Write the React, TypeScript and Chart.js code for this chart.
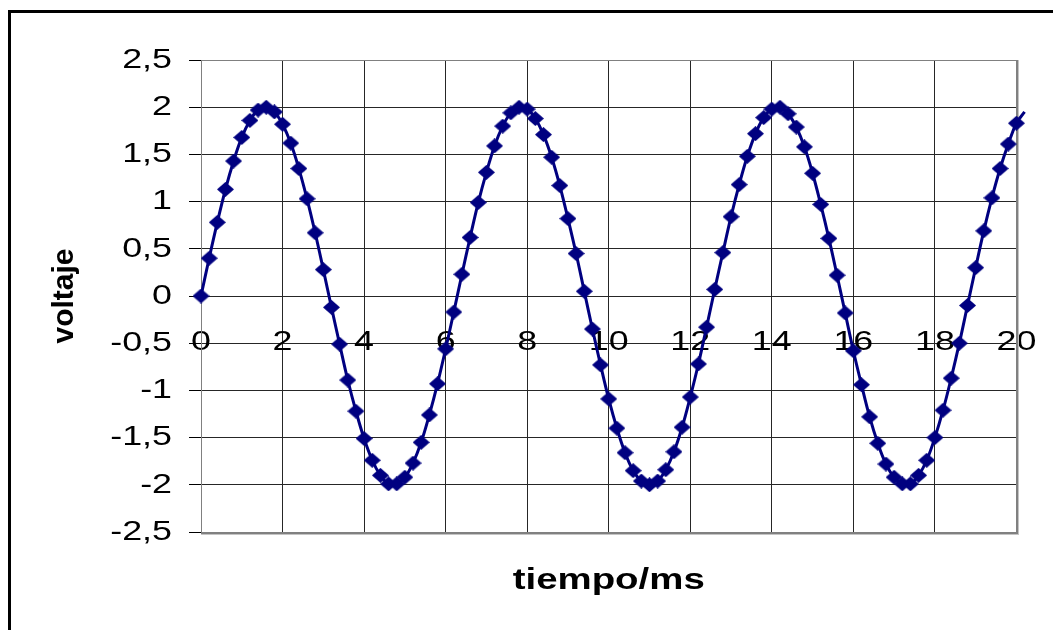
import React, { useEffect, useRef } from 'react';
import { Chart, registerables } from 'chart.js';

Chart.register(...registerables);

// ---- data ----
const TIME_MS = [
  0, 0.2, 0.4, 0.6, 0.8, 1, 1.2, 1.4, 1.6, 1.8,
  2, 2.2, 2.4, 2.6, 2.8, 3, 3.2, 3.4, 3.6, 3.8,
  4, 4.2, 4.4, 4.6, 4.8, 5, 5.2, 5.4, 5.6, 5.8,
  6, 6.2, 6.4, 6.6, 6.8, 7, 7.2, 7.4, 7.6, 7.8,
  8, 8.2, 8.4, 8.6, 8.8, 9, 9.2, 9.4, 9.6, 9.8,
  10, 10.2, 10.4, 10.6, 10.8, 11, 11.2, 11.4, 11.6, 11.8,
  12, 12.2, 12.4, 12.6, 12.8, 13, 13.2, 13.4, 13.6, 13.8,
  14, 14.2, 14.4, 14.6, 14.8, 15, 15.2, 15.4, 15.6, 15.8,
  16, 16.2, 16.4, 16.6, 16.8, 17, 17.2, 17.4, 17.6, 17.8,
  18, 18.2, 18.4, 18.6, 18.8, 19, 19.2, 19.4, 19.6, 19.8,
  20, 20.2,
];

const VOLTAGE = [
  0, 0.40, 0.78, 1.13, 1.43, 1.68, 1.86, 1.97, 2.00, 1.95,
  1.82, 1.62, 1.35, 1.03, 0.67, 0.28, -0.12, -0.51, -0.89, -1.22,
  -1.51, -1.74, -1.90, -1.99, -1.99, -1.92, -1.77, -1.55, -1.26, -0.93,
  -0.56, -0.17, 0.23, 0.62, 0.99, 1.31, 1.59, 1.80, 1.94, 2.00,
  1.98, 1.88, 1.71, 1.47, 1.17, 0.82, 0.45, 0.05, -0.35, -0.73,
  -1.09, -1.40, -1.66, -1.85, -1.96, -2.00, -1.96, -1.84, -1.65, -1.39,
  -1.07, -0.72, -0.33, 0.07, 0.46, 0.84, 1.18, 1.48, 1.72, 1.89,
  1.98, 2.00, 1.93, 1.79, 1.58, 1.30, 0.97, 0.61, 0.22, -0.18,
  -0.58, -0.94, -1.28, -1.56, -1.78, -1.92, -1.99, -1.99, -1.90, -1.74,
  -1.50, -1.21, -0.87, -0.50, -0.10, 0.30, 0.69, 1.04, 1.35, 1.61,
  1.83, 1.95,
];

const X_TICKS = [0, 2, 4, 6, 8, 10, 12, 14, 16, 18, 20];
const Y_TICKS = [-2.5, -2, -1.5, -1, -0.5, 0, 0.5, 1, 1.5, 2, 2.5];

const X_TITLE = 'tiempo/ms';
const Y_TITLE = 'voltaje';

const FONT = "'Liberation Sans', Arial, Helvetica, sans-serif";
const NAVY = '#000080';
const GRID = '#262626';
const TEXT_STRETCH = 1.28;

function makeDiamond(w: number, h: number, color: string) {
  const c = document.createElement('canvas');
  c.width = w;
  c.height = h;
  const g = c.getContext('2d')!;
  g.fillStyle = color;
  g.beginPath();
  g.moveTo(w / 2, 0);
  g.lineTo(w, h / 2);
  g.lineTo(w / 2, h);
  g.lineTo(0, h / 2);
  g.closePath();
  g.fill();
  return c;
}

const framePlugin = {
  id: 'plotFrame',
  beforeDatasetsDraw(chart: any) {
    const { ctx, chartArea: a } = chart;
    const l = Math.round(a.left);
    const t = Math.round(a.top);
    const r = Math.round(a.right);
    const b = Math.round(a.bottom);
    ctx.save();
    ctx.fillStyle = '#808080';
    ctx.fillRect(l, t, r - l, 1);
    ctx.fillRect(l, t, 1, b - t);
    ctx.fillRect(r, t, 2, b - t + 2);
    ctx.fillRect(l, b, r - l + 2, 2);
    ctx.fillStyle = '#c4c4c4';
    ctx.fillRect(r + 2, t, 1, b - t + 3);
    ctx.fillRect(l, b + 2, r - l + 3, 1);
    ctx.restore();
  },
};

export default function App() {
  const ref = useRef<HTMLCanvasElement>(null);

  useEffect(() => {
    document.documentElement.style.overflow = 'hidden';
    document.body.style.overflow = 'hidden';
    const canvas = ref.current!;
    const ctx = canvas.getContext('2d')!;
    const origFill = ctx.fillText.bind(ctx);
    // the reference text is horizontally stretched; stretch unrotated text
    (ctx as any).fillText = (text: string, x: number, y: number, maxWidth?: number) => {
      const m = ctx.getTransform();
      if (Math.abs(m.b) > 1e-6 || Math.abs(m.c) > 1e-6) {
        if (maxWidth === undefined) origFill(text, x, y);
        else origFill(text, x, y, maxWidth);
        return;
      }
      ctx.save();
      ctx.translate(x, y);
      ctx.scale(TEXT_STRETCH, 1);
      origFill(text, 0, 0);
      ctx.restore();
    };

    const diamond = makeDiamond(17, 15, NAVY);
    const xMin = X_TICKS[0];
    const xMax = X_TICKS[X_TICKS.length - 1];

    const chart = new Chart(canvas, {
      type: 'line',
      data: {
        datasets: [
          {
            data: TIME_MS.map((t, i) => ({ x: t, y: VOLTAGE[i] })),
            borderColor: NAVY,
            backgroundColor: NAVY,
            borderWidth: 3,
            tension: 0.4,
            pointStyle: diamond as any,
            pointRadius: (c: any) => (c.parsed && c.parsed.x > xMax ? 0 : 8),
            pointBorderWidth: 0,
            clip: false as any,
            xAxisID: 'x',
            yAxisID: 'y',
          },
        ],
      },
      options: {
        animation: false,
        responsive: false,
        devicePixelRatio: 1,
        layout: { padding: { top: 52, right: 39, bottom: 0, left: 0 } },
        plugins: { legend: { display: false }, tooltip: { enabled: false } },
        scales: {
          y: {
            type: 'linear',
            position: 'left',
            min: Y_TICKS[0],
            max: Y_TICKS[Y_TICKS.length - 1],
            afterBuildTicks: (s: any) => {
              s.ticks = Y_TICKS.map((v) => ({ value: v }));
            },
            afterFit: (s: any) => {
              s.width = 193;
            },
            ticks: {
              font: { family: FONT, size: 28 },
              color: '#000',
              padding: 17,
              callback: (v: any) => String(v).replace('.', ','),
            },
            grid: { color: GRID, lineWidth: 1, tickColor: '#000', tickLength: 12, drawTicks: true },
            border: { display: false },
            title: {
              display: true,
              text: Y_TITLE,
              color: '#000',
              font: { family: FONT, size: 30, weight: 'bold' },
              padding: { top: 39, bottom: 0 },
            },
          },
          x: {
            type: 'linear',
            position: { y: 0 } as any,
            bounds: 'data',
            afterDataLimits: (s: any) => {
              s.min = xMin;
              s.max = xMax;
            },
            afterBuildTicks: (s: any) => {
              s.ticks = X_TICKS.map((v) => ({ value: v }));
              s.min = xMin;
              s.max = xMax;
            },
            ticks: {
              font: { family: FONT, size: 28 },
              color: '#000',
              padding: 29,
              autoSkip: false,
              maxRotation: 0,
              callback: (v: any) => String(v),
            },
            grid: { color: GRID, lineWidth: 1, drawTicks: false },
            border: { display: false },
          },
          x2: {
            type: 'linear',
            axis: 'x',
            position: 'bottom',
            min: xMin,
            max: xMax,
            grid: { display: false },
            border: { display: false },
            ticks: { display: false },
            afterFit: (s: any) => {
              s.height = 98;
            },
            title: {
              display: true,
              text: X_TITLE,
              color: '#000',
              font: { family: FONT, size: 30, weight: 'bold' },
              padding: { top: 0, bottom: 31 },
            },
          },
        } as any,
      },
      plugins: [framePlugin],
    });

    return () => {
      chart.destroy();
    };
  }, []);

  return (
    <div style={{ position: 'relative', width: 1053, height: 622, overflow: 'hidden' }}>
      <div
        style={{
          position: 'absolute',
          left: 0,
          top: 2,
          width: 1200,
          height: 800,
          borderTop: '3px solid #000',
          borderLeft: '3px solid #000',
        }}
      />
      <canvas
        ref={ref}
        width={1053}
        height={622}
        style={{ position: 'absolute', left: 0, top: 0, display: 'block' }}
      />
    </div>
  );
}
